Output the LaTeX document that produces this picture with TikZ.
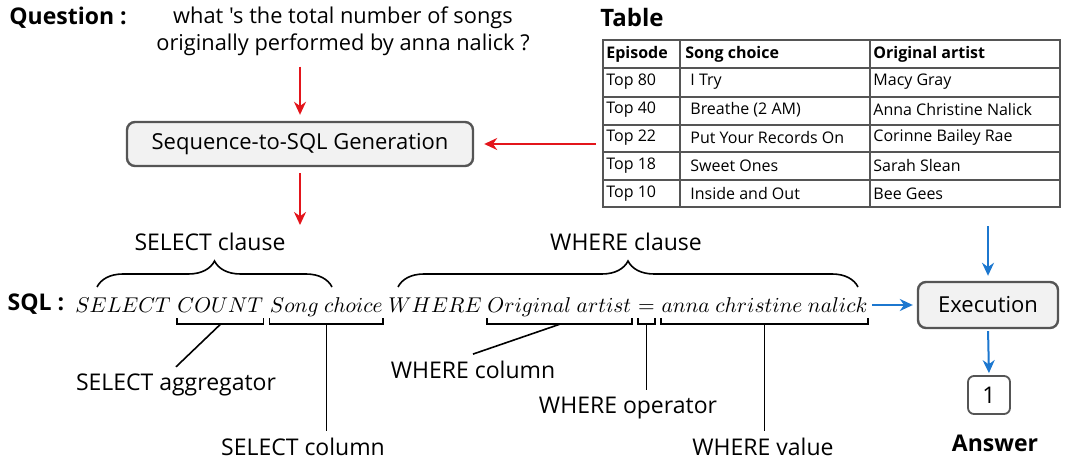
\RequirePackage{fix-cm}
\documentclass[tikz,border=0pt]{standalone}
\usepackage{amsmath}
\usepackage{fontspec}
\setmainfont{Open Sans}[Ligatures=TeXOff]
\usetikzlibrary{arrows.meta, decorations.pathreplacing, calc, positioning}
\definecolor{arrow-red}{HTML}{E3151B}
\definecolor{arrow-blue}{HTML}{1C77CF}
\definecolor{box-gray}{HTML}{F2F2F2}
\definecolor{edge-gray}{HTML}{555555}

\begin{document}
\begin{tikzpicture}[x=0.5pt, y=-0.5pt,
        every node/.style={font=\fontsize{11.5}{13}\selectfont},
        headtxt/.style={font=\bfseries\fontsize{11.5}{14}\selectfont},
        procbox/.style={draw=edge-gray, fill=box-gray, line width=1.2pt, rounded corners=4pt, font=\fontsize{11}{13}\selectfont},
        redarr/.style={draw=arrow-red, line width=1pt, -{Stealth[length=6.5pt, width=6pt]}},
        bluearr/.style={draw=arrow-blue, line width=1pt, -{Stealth[length=6.5pt, width=6pt]}},
        cell/.style={anchor=west, inner sep=0pt, font=\fontsize{8}{10}\selectfont},
        headcell/.style={cell, font=\bfseries\fontsize{8}{10}\selectfont},
        sqltok/.style={anchor=base, inner sep=0pt, text depth=2.5pt, font=\fontsize{10.7}{12}\selectfont},
        brk/.style={line width=0.9pt},
        lead/.style={line width=0.8pt},
        clausebrace/.style={line width=0.8pt, decorate, decoration={brace, amplitude=13pt}}]
      \useasboundingbox (0,0) rectangle (1080,475);

      % question and generation
      \node[headtxt] (qlbl) at (68,18) {Question :};
      \node[align=center, font=\fontsize{10.9}{13.5}\selectfont] (qtxt) at (343,31)
            {what 's the total number of songs\\originally performed by anna nalick ?};
      \node[procbox, minimum width=173pt, minimum height=22pt] (seq) at (300,144) {Sequence-to-SQL Generation};
      \coordinate (gen) at (300,225);

      % table
      \node[headtxt, font=\bfseries\fontsize{12}{14}\selectfont] (tlbl) at (632,18) {Table};
      \node[draw=edge-gray, line width=1.3pt, minimum width=228.5pt, minimum height=83.5pt, inner sep=0pt] (tbl) at (831.5,123.5) {};
      \foreach \y in {68,97,125,152,180}
        \draw[edge-gray, line width=1.2pt] (603,\y) -- (1060,\y);
      \foreach \x in {680,870}
        \draw[edge-gray, line width=1.2pt] (\x,40) -- (\x,207);
      \node[headcell] (hep) at (606,54) {Episode};
      \node[headcell] (hsong) at (685,54) {Song choice};
      \node[headcell] (hart) at (873,54) {Original artist};
      \foreach \ep/\song/\art [count=\r] in {Top 80/I Try/Macy Gray,
            Top 40/Breathe (2 AM)/Anna Christine Nalick,
            Top 22/Put Your Records On/Corinne Bailey Rae,
            Top 18/Sweet Ones/Sarah Slean,
            Top 10/Inside and Out/Bee Gees}{
        \pgfmathsetmacro{\ry}{54+27.9*\r}
        \node[cell] (ep\r) at (606,\ry) {\ep};
        \node[cell] (song\r) at (690,\ry) {\song};
        \node[cell] (art\r) at (873,\ry) {\art};
      }

      % execution and answer
      \node[procbox, minimum width=70pt, minimum height=23pt] (exe) at (988,305) {Execution};
      \node[draw=edge-gray, line width=0.9pt, rounded corners=3pt, minimum width=21pt, minimum height=19pt] (ans) at (989,395) {1};
      \node[headtxt] (alabel) at (995,443) {Answer};

      % SQL query
      \node[headtxt] (sqllbl) at (36,304) {SQL :};
      \node[sqltok, anchor=base west] (sel) at (75,313) {$SELECT$};
      \node[sqltok, base right=3pt of sel] (cnt) {$COUNT$};
      \node[sqltok, base right=3pt of cnt] (scol) {$Song\ choice$};
      \node[sqltok, base right=2.5pt of scol] (whr) {$WHERE$};
      \node[sqltok, base right=2.5pt of whr] (ocol) {$Original\ artist$};
      \node[sqltok, base right=3pt of ocol] (eqop) {$=$};
      \node[sqltok, base right=3pt of eqop] (val) {$anna\ christine\ nalick$};

      % clause braces
      \draw[clausebrace] (97,287) -- (332,287);
      \draw[clausebrace] (398,287) -- (858,287);
      \node (selcl) at (210,242) {SELECT clause};
      \node (whrcl) at (626,242) {WHERE clause};

      % component brackets
      \foreach \t in {cnt,scol,ocol,eqop,val}{
        \draw[brk] (\t.south west) -- ++(0,6) -| (\t.south east);
        \coordinate (\t-m) at ($(\t.south)+(0,6)$);
      }
      \node (lagg) at (176,385) {SELECT aggregator};
      \node (lscol) at (303,447) {SELECT column};
      \node (lwcol) at (473,370) {WHERE column};
      \node (lwop) at (628,408) {WHERE operator};
      \node (lwval) at (763,447) {WHERE value};
      \draw[lead] (cnt-m) -- (lagg.north);
      \draw[lead] (scol-m) -- (scol-m |- lscol.north);
      \draw[lead] (ocol-m) -- (lwcol.north);
      \draw[lead] (eqop-m) -- (eqop-m |- lwop.north);
      \draw[lead] (val-m) -- (val-m |- lwval.north);

      % arrows
      \draw[redarr, shorten <=2pt, shorten >=3pt] (seq.north |- qtxt.south) -- (seq.north);
      \draw[redarr, shorten <=3pt, shorten >=5pt] (seq.east -| tbl.west) -- (seq.east);
      \draw[redarr, shorten <=3pt] (seq.south) -- (gen);
      \draw[bluearr, shorten <=2pt, shorten >=2pt] (exe.west -| val.east) -- (exe.west);
      \draw[bluearr, shorten <=9pt, shorten >=2.5pt] (tbl.south -| exe.north) -- (exe.north);
      \draw[bluearr, shorten <=1pt, shorten >=1pt] (exe.south) -- (ans.north);
    \end{tikzpicture}
\end{document}
